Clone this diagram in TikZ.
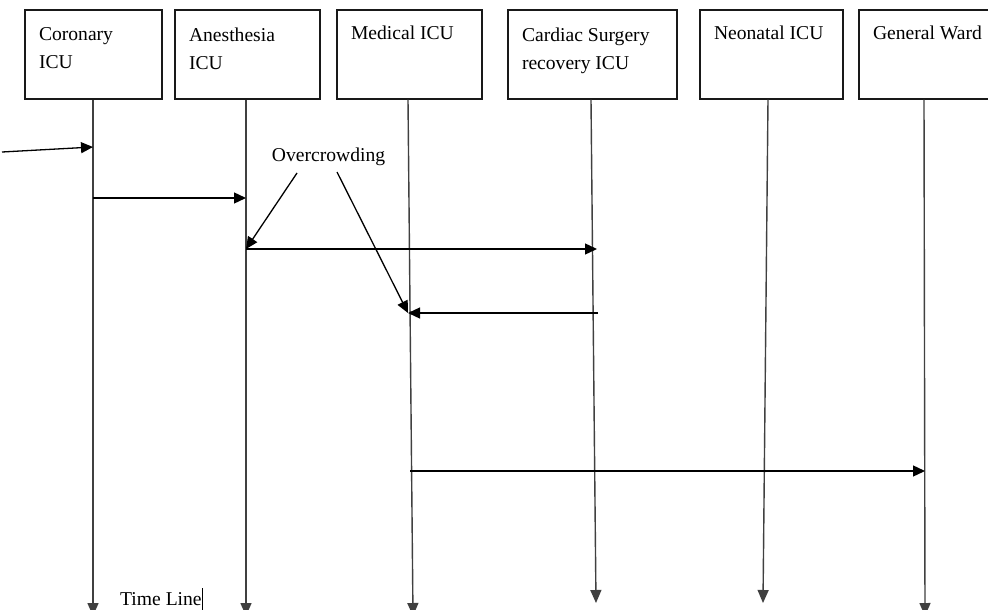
\documentclass[tikz,border=0pt]{standalone}
\usepackage{fontspec}
\setmainfont{Liberation Serif}
\usetikzlibrary{arrows.meta}
\begin{document}
\begin{tikzpicture}[x=1pt,y=-1pt,
  font=\fontsize{19.6}{28}\selectfont,
  box/.style={draw=black!90, line width=1.4pt, minimum height=89pt, inner sep=0pt},
  lbl/.style={anchor=north west, inner sep=0pt, align=left, xshift=14.5pt, yshift=-18pt},
  life/.style={draw=black!75, line width=1.4pt, -{Triangle[length=13pt,width=11pt]}},
  msg/.style={draw=black, line width=1.3pt, -{Triangle[length=12pt,width=11pt]}}
]
\useasboundingbox (0,0) rectangle (988,610);
\clip (0,0) rectangle (988,610);
\fill[white] (0,0) rectangle (988,610);
% boxes
\node[box, minimum width=137pt, label={[lbl]north west:Coronary\\ICU}] (cor) at (93.5,54.5) {};
\node[box, minimum width=145pt, label={[lbl]north west:Anesthesia\\ICU}] (ane) at (247.5,54.5) {};
\node[box, minimum width=145pt, label={[lbl,yshift=2pt]north west:Medical ICU}] (med) at (409.5,54.5) {};
\node[box, minimum width=169pt, label={[lbl]north west:Cardiac Surgery\\recovery ICU}] (car) at (592.5,54.5) {};
\node[box, minimum width=143pt, label={[lbl,yshift=2pt]north west:Neonatal ICU}] (neo) at (771.5,54.5) {};
\node[box, minimum width=150pt, label={[lbl,yshift=2pt]north west:General Ward}] (gen) at (934,54.5) {};
% lifeline ends
\coordinate (corB) at (93,616);
\coordinate (aneB) at (246,616);
\coordinate (medB) at (413,616);
\coordinate (carB) at (596,603);
\coordinate (neoB) at (763,603);
\coordinate (genB) at (925,616);
\draw[life] ([xshift=-0.5pt]cor.south) -- (corB);
\draw[life] ([xshift=-1.5pt]ane.south) -- (aneB);
\draw[life] ([xshift=-1.5pt]med.south) -- (medB);
\draw[life] ([xshift=-1.5pt]car.south) -- (carB);
\draw[life] ([xshift=-3.5pt]neo.south) -- (neoB);
\draw[life] ([xshift=-10pt]gen.south) -- (genB);
% message points
\coordinate (in0) at (2,152);
\coordinate (c1) at (93,147);
\coordinate (c2) at (93,198);
\coordinate (a2) at (246,198);
\coordinate (a3) at (246,249);
\coordinate (r3) at (597,249);
\coordinate (r4) at (598,313);
\coordinate (m4) at (408,313);
\coordinate (m5) at (410,471);
\coordinate (g5) at (925,471);
\draw[msg] (in0) -- (c1);
\draw[msg] (c2) -- (a2);
\draw[msg] (a3) -- (r3);
\draw[msg] (r4) -- (m4);
\draw[msg] (m5) -- (g5);
% overcrowding
\node[inner sep=0pt, anchor=base] (oc) at (328.5,161) {Overcrowding};
\coordinate (oc1) at (297,173);
\coordinate (oc2) at (337,172);
\draw[msg] (oc1) -- (a3);
\draw[msg] (oc2) -- (m4);
% time line
\node[inner sep=0pt, anchor=base west] (tl) at (120,605) {Time Line\rule[-5pt]{1.2pt}{22pt}};
\end{tikzpicture}
\end{document}
